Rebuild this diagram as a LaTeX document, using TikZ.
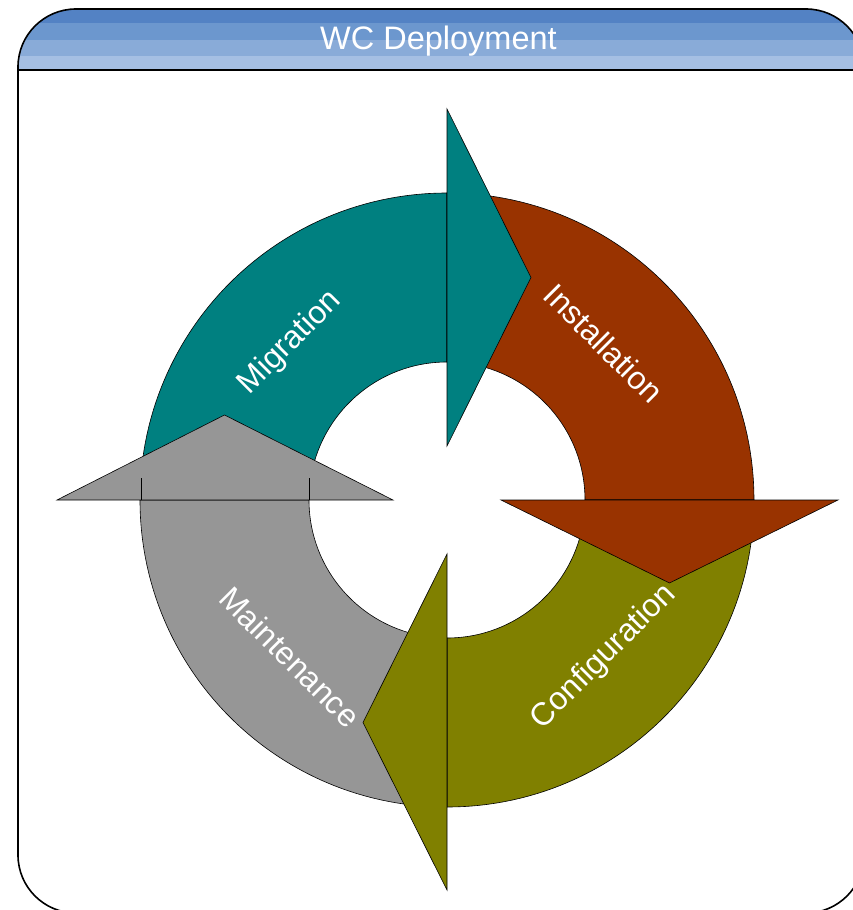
\documentclass[tikz,border=0pt]{standalone}
\usepackage{fontspec}
\setmainfont{Liberation Sans}
\definecolor{migc}{HTML}{008080}
\definecolor{insc}{HTML}{993300}
\definecolor{conc}{HTML}{808000}
\definecolor{mntc}{HTML}{969696}
\definecolor{hda}{HTML}{5382C4}
\definecolor{hdb}{HTML}{6C97CE}
\definecolor{hdc}{HTML}{89ABD8}
\definecolor{hdd}{HTML}{A5BFE3}

\begin{document}
\begin{tikzpicture}[x=1pt,y=1pt]
\tikzstyle {band}=[draw=black, line width=0.6pt]
\tikzstyle {frm}=[draw=black, line width=1.6pt]
\tikzstyle {lbl}=[text=white, font=\fontsize{32}{38}\selectfont]
\tikzstyle {ttl}=[text=white, font=\fontsize{32.5}{38}\selectfont, anchor=base]
\useasboundingbox (-447,-410) rectangle (406,500);
% header stripes
\begin{scope}
\clip[rounded corners=58pt] (-429,-413) rectangle (417,491);
\fill[hda] (-429,491) rectangle (417,477);
\fill[hdb] (-429,477) rectangle (417,460);
\fill[hdc] (-429,460) rectangle (417,444);
\fill[hdd] (-429,444) rectangle (417,430);
\end{scope}
\draw[frm, rounded corners=58pt] (-429,-413) rectangle (417,491);
\draw[frm] (-429,430) -- (417,430);
\node (title) [ttl] at (-8.5,450) {WC Deployment};
% bands
\draw[band, fill=migc] (180:307) arc (180:90:307) -- (90:138) arc (90:180:138) -- cycle;
\draw[band, fill=insc] (90:307) arc (90:0:307) -- (0:138) arc (0:90:138) -- cycle;
\draw[band, fill=conc] (0:307) arc (0:-90:307) -- (-90:138) arc (-90:0:138) -- cycle;
\draw[band, fill=mntc] (-90:307) arc (-90:-180:307) -- (-180:138) arc (-180:-90:138) -- cycle;
% heads
\draw[band, fill=migc] (0,54) -- (0,391) -- (84,222.5) -- cycle;
\draw[band, fill=insc] (54,0) -- (391,0) -- (222.5,-83) -- cycle;
\draw[band, fill=conc] (0,-54) -- (0,-390) -- (-84,-222.5) -- cycle;
\draw[band, fill=mntc] (-390,0) -- (-54,0) -- (-222.5,85) -- cycle;
\draw[band] (-306,0) -- (-306,22);
\draw[band] (-138,0) -- (-138,22);
% labels
\node (mig) [lbl, rotate=45] at (135:222) {Migration};
\node (ins) [lbl, rotate=-45] at (45:222) {Installation};
\node (con) [lbl, rotate=45] at (-45:222) {Configuration};
\node (mnt) [lbl, rotate=-45] at (-135:222) {Maintenance};
\end{tikzpicture}
\end{document}
